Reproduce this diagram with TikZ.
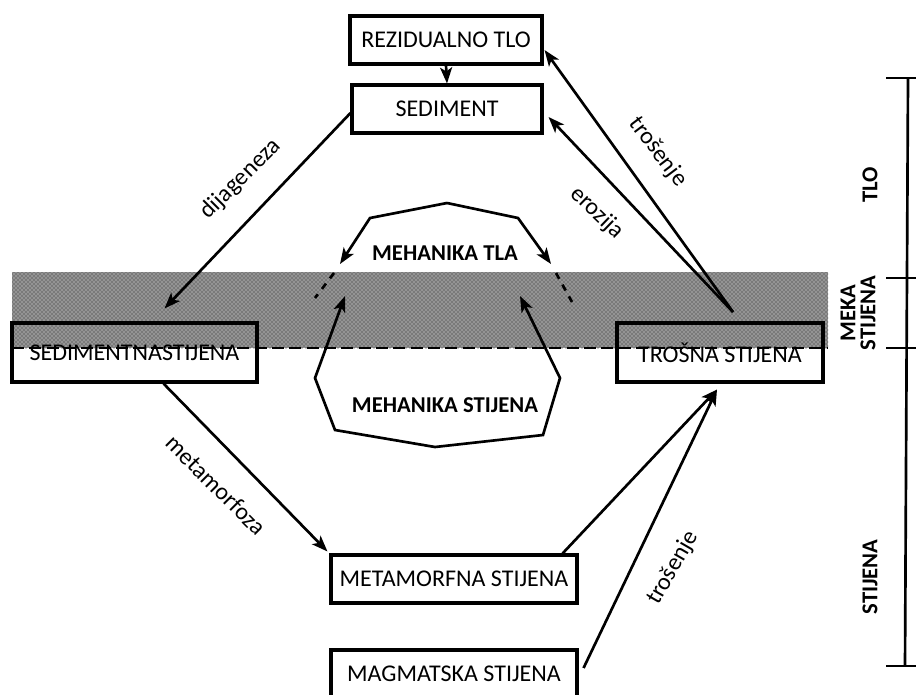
\documentclass[tikz,border=0pt]{standalone}
\usepackage{fontspec}
\setmainfont{Carlito}
\usetikzlibrary{arrows.meta,patterns,calc}
\begin{document}
\begin{tikzpicture}[x=0.75pt,y=-0.75pt,
  every node/.style={font=\fontsize{18}{20}\selectfont, inner sep=0pt},
  box/.style={draw, line width=2.3pt, minimum width=#1*0.75pt},
  boxh/.style={minimum height=#1*0.75pt},
  tip/.style={-{Stealth[length=12pt,width=9pt,inset=3pt]}},
  conn/.style={line width=2pt, tip},
  poly/.style={line width=2pt, line join=miter},
  lbl/.style={font=\fontsize{18}{20}\selectfont},
  bold/.style={font=\fontsize{17}{19}\selectfont\bfseries},
  scaleline/.style={line width=2pt}]
\useasboundingbox (0,0) rectangle (916,694);

% shaded band
\fill[black!42] (12,272) rectangle (828,348);
\fill[pattern=crosshatch dots, pattern color=black!85] (12,272) rectangle (828,348);

% boxes
\node[box=192, boxh=48] (rez) at (446,40) {REZIDUALNO TLO};
\node[box=190, boxh=48] (sed) at (447,109) {SEDIMENT};
\node[box=245, boxh=59] (sst) at (134.5,352.5) {SEDIMENTNASTIJENA};
\node[box=206, boxh=59] (tro) at (720,352.5) {TROŠNA STIJENA};
\node[box=246, boxh=48] (met) at (454,579) {METAMORFNA STIJENA};
\node[box=246, boxh=48] (mag) at (454,674) {MAGMATSKA STIJENA};

% dashed boundary
\draw[line width=2.2pt, dash pattern=on 9pt off 4pt] (12,348) -- (828,348);

% connectors
\coordinate (wt) at (733,312);
\draw[conn] (rez.south) -- (sed.north);
\draw[conn] ($(sed.west)+(0,4)$) -- ($(sst.north)+(30,-13)$);
\draw[conn] (wt) -- ($(sed.east)+(5,8)$);
\draw[conn] (wt) -- ($(rez.east)+(1,10)$);
\draw[conn] ($(sst.south)+(29,0)$) -- ($(met.north west)+(-2,-2)$);
\draw[conn] ($(met.north east)+(-16,0)$) -- ($(tro.south)+(-3,6)$);
\draw[conn] ($(mag.east)+(5,-6)$) -- ($(tro.south)+(-3,6)$);

% labels on connectors
\node[lbl, rotate=45] (ldij) at (241,179) {dijageneza};
\node[lbl, rotate=-53] (ltr1) at (658,152) {trošenje};
\node[lbl, rotate=-44] (lero) at (597,213) {erozija};
\node[lbl, rotate=-45] (lmet) at (216,485) {metamorfoza};
\node[lbl, rotate=60] (ltr2) at (673,568) {trošenje};

% mechanics polygon
\node[bold] (mtla) at (445,253) {MEHANIKA TLA};
\node[bold] (mst) at (445,405) {MEHANIKA STIJENA};
\draw[poly, tip] (447,203) -- (370,218) -- (340,264);
\draw[poly, tip] (447,203) -- (518,218) -- (551,264);
\draw[poly, dash pattern=on 5pt off 5pt] (334,273) -- (315,298);
\draw[poly, dash pattern=on 5pt off 5pt] (556,273) -- (572,302);
\draw[poly, tip] (435,447) -- (335,430) -- (315,378) -- (345,296);
\draw[poly, tip] (435,447) -- (543,435) -- (560,378) -- (520,296);

% right scale
\draw[scaleline] (908,78) -- (905,666);
\draw[scaleline] (886,78) -- (916,78);
\draw[scaleline] (886,278) -- (916,278);
\draw[scaleline] (886,348) -- (916,348);
\draw[scaleline] (886,666) -- (916,666);
\node[bold, rotate=90] (stlo) at (870,185) {TLO};
\node[bold, rotate=90, align=center] (smeka) at (858,313) {MEKA\\[-4pt]STIJENA};
\node[bold, rotate=90] (sstij) at (870,577) {STIJENA};
\end{tikzpicture}
\end{document}
